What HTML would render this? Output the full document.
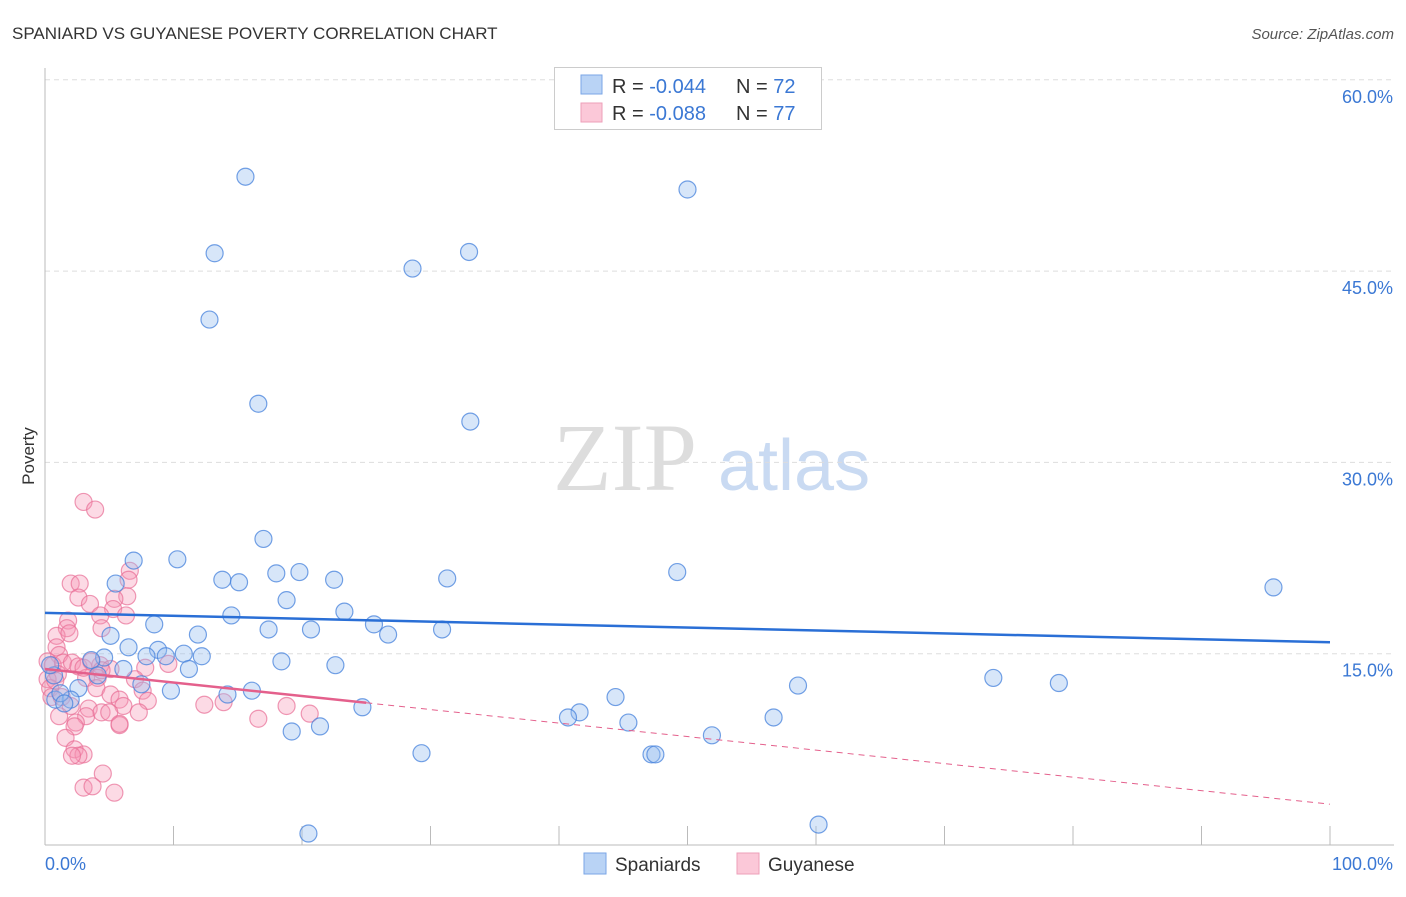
<!DOCTYPE html>
<html><head><meta charset="utf-8"><style>
body{margin:0;background:#fff;font-family:"Liberation Sans",sans-serif}
svg text{font-family:"Liberation Sans",sans-serif}
</style></head><body>
<svg id="c" width="1406" height="892" viewBox="0 0 1406 892" xmlns="http://www.w3.org/2000/svg">
<text x="12" y="39" font-size="17" fill="#333">SPANIARD VS GUYANESE POVERTY CORRELATION CHART</text>
<text x="1394" y="39" font-size="15" fill="#555" font-style="italic" text-anchor="end">Source: ZipAtlas.com</text>
<text x="34" y="456" font-size="17" fill="#333" transform="rotate(-90 34 456)" text-anchor="middle">Poverty</text>
<g><text x="553" y="490" font-size="96" font-family="Liberation Serif,serif" fill="#ddd" style="font-family:'Liberation Serif',serif">ZIP</text><text x="718" y="490" font-size="72" fill="#c9daf2">atlas</text></g>
<g id="grid"></g><g id="axes"></g><g id="pts"></g><g id="trend"></g>
<g>
<rect x="554.5" y="67.5" width="267" height="62" fill="#fff" stroke="#ccc"/>
<rect x="581" y="75" width="21" height="19" fill="#b9d3f5" stroke="#7aa6e6"/>
<rect x="581" y="103" width="21" height="19" fill="#fbc8d8" stroke="#ee9fb9"/>
<text x="612" y="93" font-size="20" fill="#333">R = <tspan fill="#3b78d4">-0.044</tspan><tspan x="736">N = </tspan><tspan fill="#3b78d4">72</tspan></text>
<text x="612" y="120" font-size="20" fill="#333">R = <tspan fill="#3b78d4">-0.088</tspan><tspan x="736">N = </tspan><tspan fill="#3b78d4">77</tspan></text>
</g>
<g>
<rect x="584" y="853" width="22" height="21" fill="#b9d3f5" stroke="#7aa6e6"/>
<text x="615" y="871" font-size="19" fill="#333">Spaniards</text>
<rect x="737" y="853" width="22" height="21" fill="#fbc8d8" stroke="#ee9fb9"/>
<text x="768" y="871" font-size="19" fill="#333">Guyanese</text>
</g>
</svg>
<script>
const yTicks=[15,30,45,60];
const yTickLabels=["15.0%","30.0%","45.0%","60.0%"];
const xTickVals=[10,20,30,40,50,60,70,80,90,100];
const blueX=[15.6,50.0,13.2,28.6,33.0,12.8,16.6,33.1,17.0,6.9,10.3,13.8,15.1,18.0,19.8,22.5,31.3,49.2,95.6,5.5,18.8,14.5,23.3,8.5,25.6,26.7,30.9,17.4,20.7,5.1,11.9,6.5,8.8,10.8,12.2,9.4,7.9,4.6,3.6,18.4,22.6,6.1,11.2,4.1,0.7,2.6,7.5,9.8,16.1,14.2,73.8,78.9,58.6,44.4,0.8,2.0,24.7,41.6,40.7,45.4,56.7,21.4,19.2,51.9,29.3,47.2,47.5,20.5,60.2,1.2,1.5,0.4];
const blueY=[52.4,51.4,46.4,45.2,46.5,41.2,34.6,33.2,24.0,22.3,22.4,20.8,20.6,21.3,21.4,20.8,20.9,21.4,20.2,20.5,19.2,18.0,18.3,17.3,17.3,16.5,16.9,16.9,16.9,16.4,16.5,15.5,15.3,15.0,14.8,14.8,14.8,14.7,14.5,14.4,14.1,13.8,13.8,13.3,13.3,12.3,12.6,12.1,12.1,11.8,13.1,12.7,12.5,11.6,11.4,11.4,10.8,10.4,10.0,9.6,10.0,9.3,8.9,8.6,7.2,7.1,7.1,0.9,1.6,11.9,11.1,14.1];
const pinkX=[3.0,3.9,6.6,6.5,2.0,2.7,6.4,5.4,2.6,3.5,5.3,1.8,6.3,4.3,1.7,4.4,0.9,1.9,0.9,1.1,0.2,0.6,1.4,2.1,4.3,2.6,7.8,9.6,5.1,1.0,3.2,4.1,0.2,7.0,0.4,4.0,7.6,5.1,0.5,1.3,5.8,8.0,12.4,13.9,18.8,2.0,6.1,3.4,1.1,3.2,4.4,7.3,5.0,16.6,20.6,2.4,2.3,5.8,5.8,1.6,2.3,3.0,2.6,2.1,4.5,3.0,3.7,5.4,3.0,3.6,4.4,0.8];
const pinkY=[26.9,26.3,21.5,20.8,20.5,20.5,19.5,19.3,19.4,18.9,18.5,17.6,18.0,18.0,17.0,17.0,16.4,16.6,15.5,14.9,14.4,14.1,14.3,14.3,14.1,14.0,13.9,14.2,13.8,13.4,13.1,13.1,13.0,13.0,12.3,12.3,12.1,11.8,11.6,11.6,11.4,11.3,11.0,11.2,10.9,10.9,10.9,10.7,10.1,10.1,10.4,10.4,10.4,9.9,10.3,9.6,9.3,9.4,9.5,8.4,7.5,7.1,7.0,7.0,5.6,4.5,4.6,4.1,13.9,14.4,13.7,12.9];
const blueTrend=[18.2,15.9];
const pinkTrend=[13.8,3.2];
const pinkSolidEnd=25;
const X0=45,X1=1330,Y0=845,PPU=191.3/15;
const sx=v=>X0+(X1-X0)*v/100, sy=v=>Y0-v*PPU;
const NS="http://www.w3.org/2000/svg";
function mk(tag,attrs,parent){const e=document.createElementNS(NS,tag);for(const k in attrs)e.setAttribute(k,attrs[k]);document.getElementById(parent).appendChild(e);return e;}
yTicks.forEach((t,i)=>{
 const l=mk('line',{x1:X0,x2:1394,y1:sy(t),y2:sy(t),stroke:'#ddd','stroke-dasharray':'5,4'},'grid');
 
 
 const tx=mk('text',{x:1393,y:sy(t)+23,'font-size':18,fill:'#3b78d4','text-anchor':'end'},'axes');
 tx.textContent=yTickLabels[i];
 
 
});
let a=mk('line',{x1:X0,x2:X0,y1:68,y2:Y0,stroke:'#bbb'},'axes');


a=mk('line',{x1:X0,x2:1394,y1:Y0,y2:Y0,stroke:'#bbb'},'axes');


xTickVals.forEach(t=>{const l=mk('line',{x1:sx(t),x2:sx(t),y1:826,y2:Y0,stroke:'#bbb'},'axes');
 
 });
let t0=mk('text',{x:45,y:870,'font-size':18,fill:'#3b78d4'},'axes');t0.textContent='0.0%';


let t1=mk('text',{x:1393,y:870,'font-size':18,fill:'#3b78d4','text-anchor':'end'},'axes');t1.textContent='100.0%';


pinkX.forEach((x,i)=>{const c=mk('circle',{cx:sx(x),cy:sy(pinkY[i]),r:8.5,fill:'rgba(245,150,180,0.35)',stroke:'rgba(232,110,150,0.7)','stroke-width':1.2},'pts');
 
 });
blueX.forEach((x,i)=>{const c=mk('circle',{cx:sx(x),cy:sy(blueY[i]),r:8.5,fill:'rgba(150,190,240,0.38)',stroke:'rgba(70,130,220,0.75)','stroke-width':1.2},'pts');
 
 });
let bl=mk('line',{x1:sx(0),x2:sx(100),y1:sy(blueTrend[0]),y2:sy(blueTrend[1]),stroke:'#2a6fd6','stroke-width':2.5},'trend');


const pAt=v=>pinkTrend[0]+(pinkTrend[1]-pinkTrend[0])*v/100;
let pl=mk('line',{x1:sx(0),x2:sx(pinkSolidEnd),y1:sy(pAt(0)),y2:sy(pAt(pinkSolidEnd)),stroke:'#e4608c','stroke-width':2.5},'trend');


let pd=mk('line',{x1:sx(pinkSolidEnd),x2:sx(100),y1:sy(pAt(pinkSolidEnd)),y2:sy(pAt(100)),stroke:'#e4608c','stroke-width':1,'stroke-dasharray':'6,5'},'trend');


</script>
</body></html>
